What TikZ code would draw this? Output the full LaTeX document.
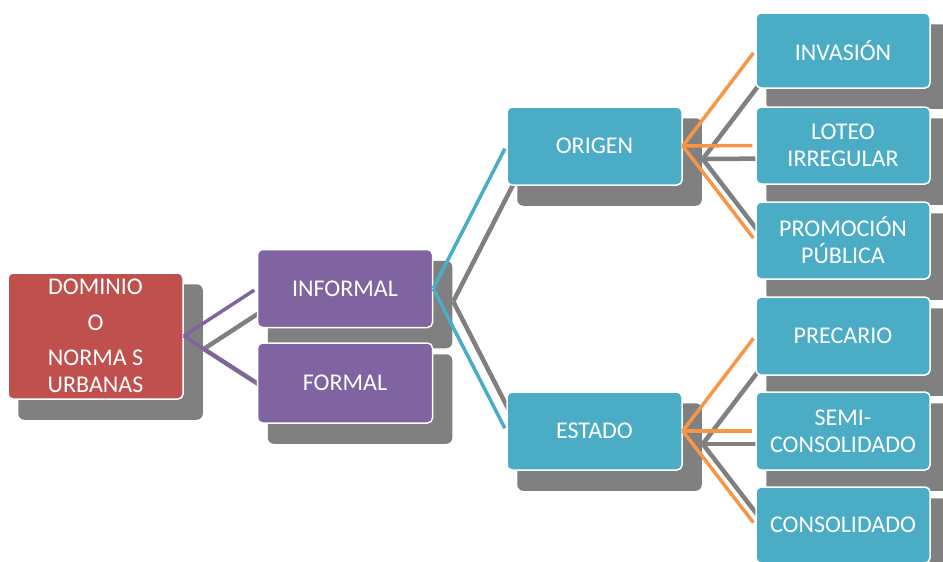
\documentclass[tikz,border=0pt]{standalone}
\usepackage{fontspec}
\setmainfont{Carlito}
\usetikzlibrary{calc,backgrounds}
\definecolor{root}{HTML}{C0504D}
\definecolor{branch}{HTML}{8064A2}
\definecolor{leaf}{HTML}{4BACC6}
\definecolor{twig}{HTML}{F79646}
\definecolor{shadowgray}{HTML}{808080}
\tikzset{
  box/.style={draw=white,line width=1.5pt,rounded corners=5pt,fill=leaf,align=center,text=white,
    font=\fontsize{24}{27}\selectfont,minimum width=175,minimum height=78,inner sep=0pt},
  rootbox/.style={box,fill=root,minimum height=126},
  branchbox/.style={box,fill=branch},
  link/.style={line width=3.5pt,shorten >=3pt},
  shadowlink/.style={draw=shadowgray,line width=4.5pt},
}

\begin{document}
\begin{tikzpicture}[x=1pt,y=-1pt]
  \useasboundingbox (0,0) rectangle (943,562);
  \node[rootbox] (dom) at (95.5,336) {DOMINIO\\[9pt]O\\[8pt]NORMA S\\URBANAS};
  \node[branchbox] (inf) at (345,288.5) {INFORMAL};
  \node[branchbox,minimum height=80] (for) at (345,383) {FORMAL};
  \node[box] (ori) at (594.5,146) {ORIGEN};
  \node[box] (est) at (594.5,431) {ESTADO};
  \node[box,minimum width=174,minimum height=75] (inv) at (843,50.5) {INVASIÓN};
  \node[box,minimum width=174,minimum height=77] (lot) at (843,145.5) {LOTEO\\IRREGULAR};
  \node[box,minimum width=174,minimum height=77] (pro) at (843,240.5) {PROMOCIÓN\\PÚBLICA};
  \node[box,minimum width=174] (pre) at (843,336) {PRECARIO};
  \node[box,minimum width=174] (sem) at (843,431) {SEMI-\\CONSOLIDADO};
  \node[box,minimum width=174,minimum height=76] (con) at (843,525) {CONSOLIDADO};

  % shadows of boxes and links
  \begin{scope}[on background layer]
    \foreach \n in {dom,inf,for,ori,est,inv,lot,pro,pre,sem,con}
      \fill[shadowgray,rounded corners=6pt] ($(\n.north west)+(11,12)$) rectangle ($(\n.south east)+(19,20)$);
    \foreach \a/\b in {dom/inf,dom/for,inf/ori,inf/est,ori/inv,ori/lot,ori/pro,est/pre,est/sem,est/con}
      \draw[shadowlink] ($(\a.east)+(20,13)$) -- ($(\b.west)+(20,13)$);
  \end{scope}

  \foreach \a/\b/\c in {dom/inf/branch,dom/for/branch,inf/ori/leaf,inf/est/leaf,
      ori/inv/twig,ori/lot/twig,ori/pro/twig,est/pre/twig,est/sem/twig,est/con/twig}
    \draw[link,draw=\c] (\a.east) -- (\b.west);
\end{tikzpicture}
\end{document}
